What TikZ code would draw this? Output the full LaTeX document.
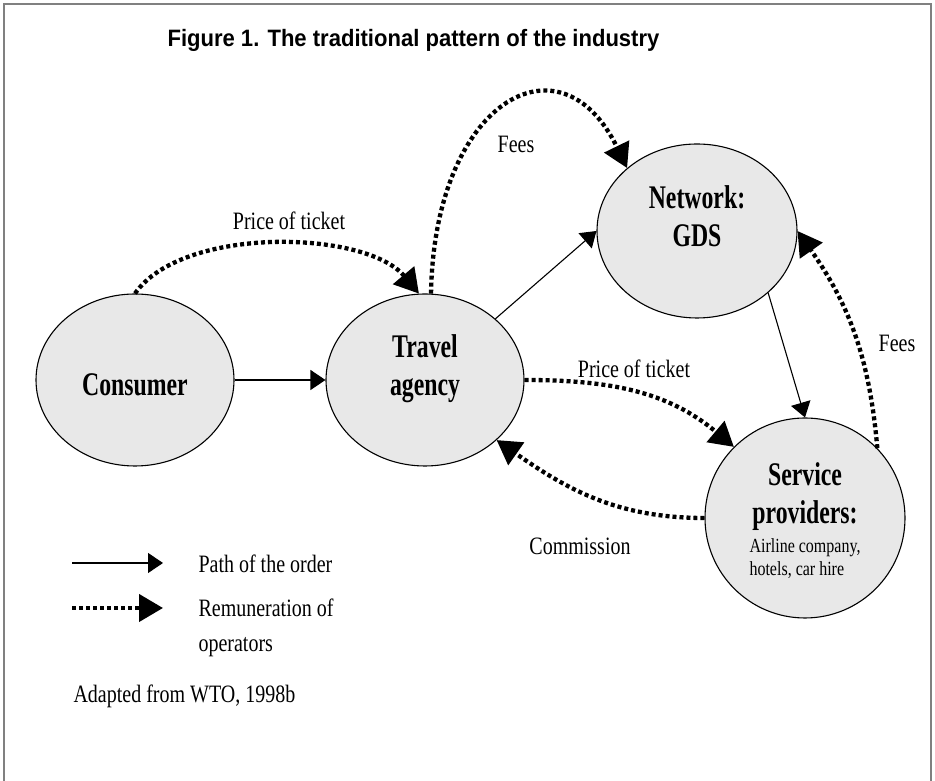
\documentclass[tikz,border=0pt]{standalone}
\usepackage{fontspec}
\setmainfont{Liberation Serif}
\newfontfamily\labelfont{Liberation Serif}[FakeStretch=0.8]
\newfontfamily\nodefont{Liberation Serif}[FakeStretch=0.72]
\newfontfamily\titlefont{Liberation Sans}[FakeStretch=0.93]
\usepackage{tikz}
\usetikzlibrary{arrows.meta,shapes.geometric,positioning}
\tikzset{
  actor/.style={ellipse, draw, line width=1.1pt, fill=gray!18,
    minimum width=198pt, minimum height=172pt, inner sep=0pt},
  actortext/.style={align=center, inner sep=0pt,
    font=\nodefont\bfseries\fontsize{33}{38}\selectfont},
  order/.style={-{Triangle[length=15pt,width=20pt]}, line width=1.1pt},
  remun/.style={-{Triangle[length=24pt,width=27pt]}, line width=4.3pt,
    dash pattern=on 4pt off 3pt},
  lbl/.style={font=\labelfont\fontsize{25}{35}\selectfont},
}

\begin{document}
\begin{tikzpicture}[x=1pt,y=1pt]
      \useasboundingbox (0,0) rectangle (935,781);
      \draw[gray, line width=1.2pt] (4,0) -- (4,777) -- (931,777) -- (931,0);
      \node[anchor=base west, font=\titlefont\bfseries\fontsize{23.7}{28}\selectfont] (title) at (164,734)
        {Figure 1. The traditional pattern of the industry};

      \node[actor, label={[actortext, name=consl, yshift=-5pt]center:Consumer}] (cons) at (135,401) {};
      \node[actor, label={[actortext, name=tal, yshift=11pt]center:Travel\\agency}] (ta) at (425,401) {};
      \node[actor, minimum width=200pt, minimum height=174pt,
        label={[actortext, name=gdsl, yshift=15pt]center:Network:\\GDS}] (gds) at (697,550) {};
      \node[actor, minimum width=200pt, minimum height=200pt,
        label={[actortext, name=spl, yshift=-5pt]center:Service\\providers:\\[-9pt]{\labelfont\mdseries\fontsize{20}{23}\selectfont
         \begin{tabular}[t]{@{}l@{}}Airline company,\\hotels, car hire\end{tabular}}}] (sp) at (805,263) {};

      \draw[order] (cons) -- (ta);
      \draw[order] (ta) -- (gds.west);
      \draw[order] (gds.-41) -- (sp.north);

      \draw[remun] (cons.north) to[out=55,in=130,looseness=.75] (ta.94);
      \draw[remun] (ta.86) .. controls +(3,192) and +(-67,138) .. (gds.138);
      \draw[remun] (ta.east) to[out=0,in=140] (sp.135);
      \draw[remun] (sp.west) to[out=180,in=-35] (ta.-40);
      \draw[remun] (sp.44) to[out=95,in=-55] (gds.east);

      \node[lbl, anchor=base] (price1) at (289,551) {Price of ticket};
      \node[lbl, anchor=base] (fees1) at (516,628) {Fees};
      \node[lbl, anchor=base] (price2) at (634,403) {Price of ticket};
      \node[lbl, anchor=base] (comm) at (580,226) {Commission};
      \node[lbl, anchor=base] (fees2) at (897,429) {Fees};

      % legend
      \coordinate (l1) at (72,218);
      \coordinate (l2) at (163,218);
      \coordinate (l3) at (72,173);
      \coordinate (l4) at (163,173);
      \draw[order] (l1) -- (l2);
      \draw[remun] (l3) -- (l4);
      \node[lbl, anchor=base west] (pathtxt) at (195,208) {Path of the order};
      \node[lbl, anchor=base west, align=left] (remtxt) at (195,129) {Remuneration of\\operators};
      \node[lbl, anchor=base west] (src) at (70,78) {Adapted from WTO, 1998b};
    \end{tikzpicture}
\end{document}
